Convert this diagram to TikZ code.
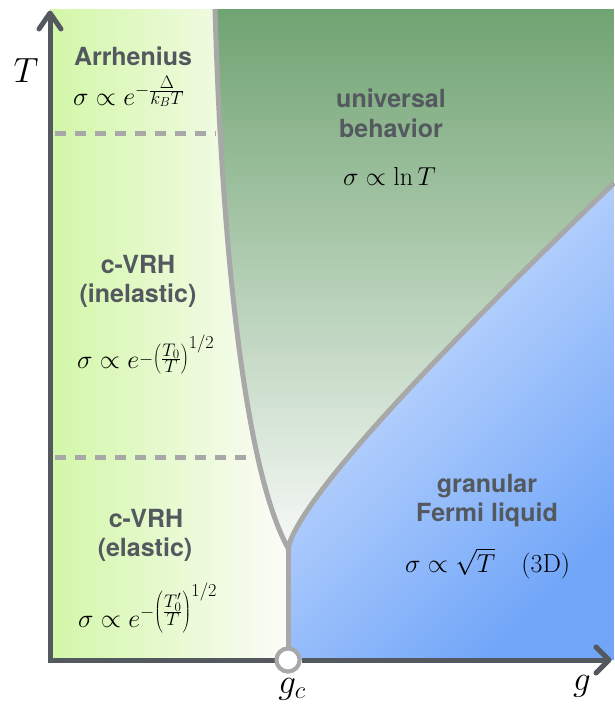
\documentclass[tikz,border=0pt]{standalone}
\usepackage{fix-cm}
\usepackage{fontspec}
\newfontfamily\labfont{TeX Gyre Heros}
\definecolor{axisc}{RGB}{84,89,95}
\definecolor{bnd}{RGB}{168,168,168}
\definecolor{lgreen}{RGB}{210,247,168}
\definecolor{lwhite}{RGB}{252,252,248}
\definecolor{ugreen}{RGB}{112,163,114}
\definecolor{uwhite}{RGB}{246,249,246}
\definecolor{blight}{RGB}{212,228,255}
\definecolor{bdark}{RGB}{112,165,248}
\definecolor{txt}{RGB}{84,89,95}
\tikzset{
  lab/.style={font=\labfont\bfseries\fontsize{25}{30}\selectfont, text=txt, inner sep=0pt, anchor=base},
  mth/.style={font=\fontsize{26}{30}\selectfont, inner sep=0pt, anchor=base west},
  axlbl/.style={font=\fontsize{35}{40}\selectfont, inner sep=0pt, anchor=base},
  bline/.style={draw=bnd, line width=5pt},
  dline/.style={draw=bnd, line width=5pt, dash pattern=on 11pt off 9pt},
  axisline/.style={draw=axisc, line width=5pt},
  chev/.style={draw=axisc, line width=5pt, line cap=round, line join=round},
}
\begin{document}
\begin{tikzpicture}[x=1pt,y=-1pt]
\useasboundingbox (0,0) rectangle (614,713);
\coordinate (top) at (215,9);
\coordinate (cusp) at (288,548);
\coordinate (redge) at (614,183);
% regions
\shade[left color=lgreen, right color=lwhite]
  (50,9) -- (top) .. controls (222,250) and (245,470) .. (cusp) -- (288,660) -- (50,660) -- cycle;
\shade[top color=ugreen, bottom color=uwhite]
  (top) .. controls (222,250) and (245,470) .. (cusp) .. controls (300,500) and (420,370) .. (redge) -- (614,9) -- cycle;
\shade[shading=axis, top color=blight, bottom color=bdark, shading angle=45]
  (cusp) .. controls (300,500) and (420,370) .. (redge) -- (614,660) -- (288,660) -- cycle;
% boundaries
\coordinate (d1a) at (55,133);
\coordinate (d1b) at (216,133);
\coordinate (d2a) at (55,457);
\coordinate (d2b) at (254,457);
\draw[dline] (d1a) -- (d1b);
\draw[dline] (d2a) -- (d2b);
\draw[bline] (top) .. controls (222,250) and (245,470) .. (cusp) .. controls (300,500) and (420,370) .. (redge);
% axes
\coordinate (o) at (50,660);
\coordinate (ytip) at (50,13);
\coordinate (xtip) at (609,660);
\node[circle, draw=bnd, fill=white, line width=4pt, minimum size=23pt, inner sep=0pt] (gc) at (288,660) {};
\draw[bline] (cusp) -- (gc.north);
\draw[axisline] (47.5,660) -- (gc.west);
\draw[axisline] (gc.east) -- (xtip);
\draw[axisline] (o) -- (ytip);
\draw[chev] (39,29) -- (ytip) -- (61,29);
\draw[chev] (596,647) -- (xtip) -- (596,673);
\node[circle, draw=bnd, fill=white, line width=4pt, minimum size=23pt, inner sep=0pt] at (gc) {};
% labels
\node[axlbl] (T) at (26,82) {$T$};
\node[axlbl] (gcl) at (292,693) {$g_c$};
\node[axlbl] (g) at (582,690) {$g$};
\node[lab] (arr) at (133,65) {Arrhenius};
\node[mth] (arrf) at (73,105) {$\sigma\propto e\raisebox{9.5pt}{$\scriptstyle-\frac{\scriptstyle\Delta}{\scriptstyle k_BT}$}$};
\node[lab] (uni1) at (391,107) {universal};
\node[lab] (uni2) at (391,137) {behavior};
\node[mth] (unif) at (343,185) {$\sigma\propto\ln T$};
\node[lab] (cv1) at (138,273) {c-VRH};
\node[lab] (cv1b) at (138,302) {(inelastic)};
\node[mth] (cv1f) at (77,368) {$\sigma\propto e\raisebox{4pt}{$\scriptstyle-\left(\frac{\scriptstyle T_0}{\scriptstyle T}\right)^{\scriptstyle 1/2}$}$};
\node[lab] (cv2) at (146,527) {c-VRH};
\node[lab] (cv2b) at (145,556) {(elastic)};
\node[mth] (cv2f) at (78,627) {$\sigma\propto e\raisebox{10pt}{$\scriptstyle-\left(\rule[-16pt]{0pt}{41.5pt}\frac{\scriptstyle T_0'}{\scriptstyle T}\right)^{\scriptstyle 1/2}$}$};
\node[lab] (gr1) at (487,492) {granular};
\node[lab] (gr2) at (487,521) {Fermi liquid};
\node[mth] (grf) at (405,572) {$\sigma\propto\sqrt{T}\quad(3\mathrm{D})$};
\end{tikzpicture}
\end{document}
